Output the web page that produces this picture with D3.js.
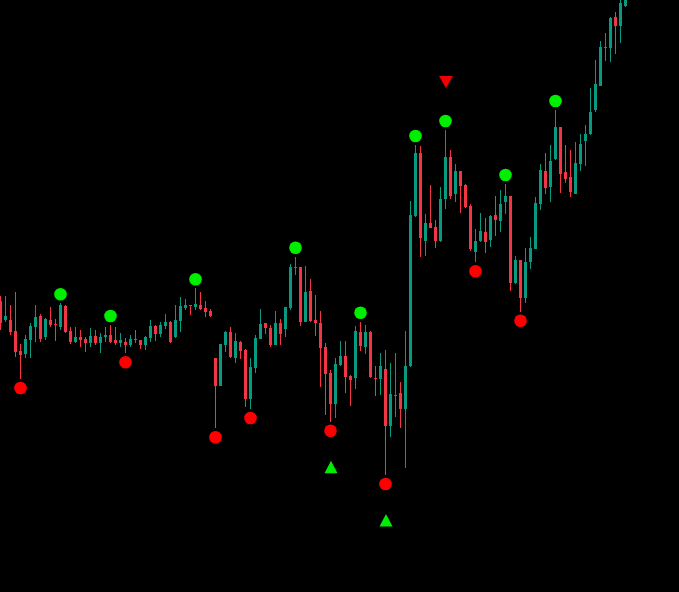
<!DOCTYPE html>
<html><head><meta charset="utf-8">
<script src="https://cdn.jsdelivr.net/npm/d3@7"></script>
<style>html,body{margin:0;padding:0;background:#000;overflow:hidden}</style>
</head><body><svg id="c" width="679" height="592"></svg>
<script>
const highs=[1304,1304,1295,1307.7,1256,1265,1277.3,1295,1285.7,1282.3,1292.7,1280.7,1296.7,1295,1273.3,1273.3,1270,1263.3,1271.7,1270,1266.7,1273.3,1275,1272.7,1266.7,1261.7,1265,1270,1260,1264,1280,1275,1278.3,1286,1279.3,1295,1302.7,1300.7,1295,1311.7,1308.3,1299,1290.7,1241.7,1256,1269.3,1272.7,1266.7,1259,1250.7,1241.7,1265,1291,1276.7,1275,1289.3,1280.7,1293.3,1335.7,1343.3,1333.3,1334,1320.7,1305,1289.3,1257.3,1230,1241.7,1259,1259,1225,1274,1278.3,1275,1269,1234,1246.7,1250,1236.7,1246.7,1218.3,1269.3,1399.3,1455,1454,1386,1415,1380,1413.3,1470,1450,1436,1429,1415.7,1396,1371,1386.7,1381.7,1385,1404,1410,1416,1404,1344,1340,1351.7,1363.3,1403.3,1436,1447.3,1455,1490,1473.3,1455,1450,1457.7,1466,1475,1511.7,1540,1559,1567.3,1582.7,1587.7,1605,1610];
const opens=[1299,1280,1280,1269.3,1249.3,1246,1260,1273.3,1284.3,1262.7,1280,1275.7,1273.3,1294.3,1269.3,1258.3,1262.7,1260.7,1257.3,1264,1256.7,1262.7,1265,1260,1257.3,1258.3,1255,1261,1260,1255,1261.7,1274,1266,1274,1278.3,1262.7,1279.3,1291.7,1295,1293.3,1295,1291.7,1289,1241.7,1214.3,1255,1267.7,1241.7,1257.7,1250,1201,1232.3,1261,1276.7,1271.7,1255,1276.7,1270.7,1291.7,1332,1332.7,1278.3,1309,1280,1277.3,1253.3,1227.3,1196,1235,1244,1224.3,1221.7,1267.7,1253.3,1268.3,1222.3,1221,1230.7,1174.3,1204.3,1207.3,1190.7,1234,1384,1447.3,1359.3,1376.7,1372.7,1359.3,1400.7,1442.7,1405.7,1429,1415,1394,1347.7,1359,1368.3,1360,1385,1379.3,1398.3,1404,1316.7,1340,1302.3,1337.7,1351,1396,1429,1412.7,1441,1473.3,1427.7,1423.3,1406,1436,1459.3,1466,1490,1514.3,1552.7,1551.7,1582.7,1574.3,1594.3];
const closes=[1277,1284,1268.3,1248.3,1245,1260.7,1274,1283.3,1261,1281,1275,1274.7,1295,1268.3,1258.3,1262.7,1260,1257.3,1264,1257.3,1262.7,1265,1258.3,1256.7,1260,1255,1261,1260,1255,1262.7,1274,1266,1275,1278.3,1258.3,1280,1294,1295,1294.3,1296,1290.7,1288.3,1284.3,1214.3,1256,1267.7,1242.7,1259,1249.3,1201,1233.3,1262.3,1276,1271.7,1255,1276.7,1265.7,1292.7,1332.7,1332.7,1278.3,1308.3,1279,1277.3,1252.3,1226,1196,1236,1244,1223.3,1220,1269.3,1254,1267.7,1223.3,1221.7,1234,1174.3,1206,1205,1190.7,1234,1385,1447.3,1361.7,1376.7,1372.3,1359.3,1400.7,1442.7,1404,1429,1414,1392.7,1350.7,1359,1369,1358.3,1384,1380,1396,1404,1317.3,1340,1302.3,1337.7,1351.7,1396.7,1430,1412.3,1439,1473.3,1426,1421,1408.3,1437.3,1456,1466,1487.7,1516,1553.3,1552.7,1581.7,1574.3,1596.7,1603];
const lows=[1270,1278.3,1265,1243.3,1221,1241.7,1241.7,1258.3,1257.7,1260,1272.7,1259.3,1270,1267.3,1255.7,1256.7,1253.3,1248.3,1253.3,1255,1247.3,1258.3,1256.7,1255,1252.7,1246.7,1252.7,1256.7,1250.7,1250,1258.3,1259.3,1263.3,1270.7,1257.3,1261.7,1268.3,1290,1285,1290,1290,1283.3,1282.7,1171.7,1214.3,1248.3,1241.7,1237.3,1241,1193.3,1191,1227.3,1261,1266,1252.7,1255,1255,1263.3,1290,1325,1274,1278.3,1278.3,1264,1213.3,1185,1178.3,1182.3,1234,1207.3,1194.3,1210.7,1249,1245.7,1221.7,1204.3,1205,1125,1163.3,1183.3,1171.7,1131.7,1233.3,1382.7,1343.3,1344,1371.7,1352.3,1358.3,1391,1401,1398.3,1387.3,1391.7,1349.3,1337.7,1358.3,1346.7,1353.3,1364.3,1368.3,1386,1309.3,1315.7,1288.3,1297.3,1331,1351,1390,1406,1398.3,1440,1407.3,1416.7,1403.3,1406,1429.3,1434.3,1465,1488.3,1514.3,1539.3,1538.3,1545.7,1556.7,1592.7];
const swingHighIdx=[12,22,39,59,72,83,89,101,111];
const swingLowIdx=[4,25,43,50,66,77,95,104];
const buySignalIdx=[66,77];
const sellSignalIdx=[89];
const priceDomain=[1008,1600];

const W=679,H=592;
const svg=d3.select('#c');
svg.append('rect').attr('width',W).attr('height',H).attr('fill','#000');
const n=opens.length;
const x=d3.scaleLinear().domain([0,n-1]).range([0,5*(n-1)]);
const y=d3.scaleLinear().domain(priceDomain).range([H,0]);
const up='#089981',dn='#f23645';
const data=d3.range(n).map(i=>({i,o:opens[i],h:highs[i],l:lows[i],c:closes[i]}));
const g=svg.append('g').attr('shape-rendering','crispEdges');
g.selectAll('line.w').data(data).join('line')
 .attr('x1',d=>Math.round(x(d.i))+0.5).attr('x2',d=>Math.round(x(d.i))+0.5)
 .attr('y1',d=>y(d.h)).attr('y2',d=>y(d.l))
 .attr('stroke',d=>d.c>=d.o?up:dn).attr('stroke-width',1);
g.selectAll('rect.b').data(data).join('rect')
 .attr('x',d=>Math.round(x(d.i))-1).attr('width',3)
 .attr('y',d=>y(Math.max(d.o,d.c))).attr('height',d=>Math.max(1,Math.abs(y(d.o)-y(d.c))))
 .attr('fill',d=>d.c>=d.o?up:dn);
svg.selectAll('circle.sh').data(swingHighIdx).join('circle')
 .attr('cx',i=>x(i)+0.5).attr('cy',i=>y(highs[i])-9).attr('r',6.3).attr('fill','#00ee00');
svg.selectAll('circle.sl').data(swingLowIdx).join('circle')
 .attr('cx',i=>x(i)+0.5).attr('cy',i=>y(lows[i])+9).attr('r',6.3).attr('fill','#ff0000');
// up triangle: apex at top (0,0), base below
const upTri=d3.line()([[0,0],[6.5,12.6],[-6.5,12.6]])+'Z';
const dnTri=d3.line()([[0,0],[7,-12.3],[-7,-12.3]])+'Z';
svg.selectAll('path.buy').data(buySignalIdx).join('path')
 .attr('d',upTri).attr('transform',i=>`translate(${x(i)+1},${y(lows[i])+39})`).attr('fill','#00ee00');
svg.selectAll('path.sell').data(sellSignalIdx).join('path')
 .attr('d',dnTri).attr('transform',i=>`translate(${x(i)+1},${y(highs[i])-41.7})`).attr('fill','#ee0000');
</script></body></html>
